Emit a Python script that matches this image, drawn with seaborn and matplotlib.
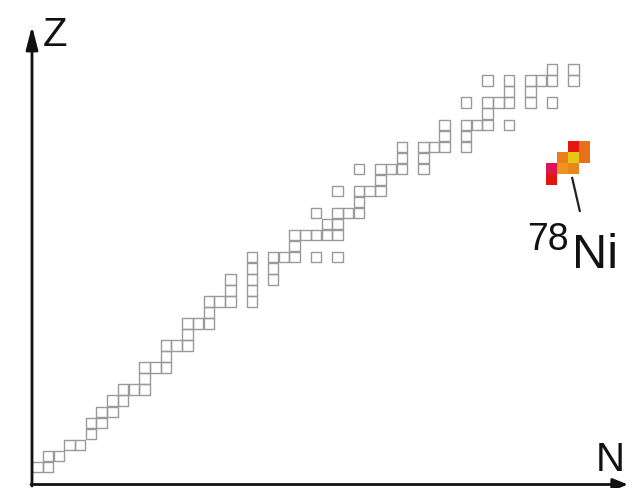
import matplotlib
matplotlib.use("Agg")
import matplotlib.pyplot as plt
import seaborn as sns
import pandas as pd

# ---- data: nuclides with T1/2 > 1e10 y (stable), Z = 1..37 ----
stable_Z = [1, 1, 2, 2, 3, 3, 4, 5, 5, 6, 6, 7, 7, 8, 8, 8, 9, 10, 10, 10,
            11, 12, 12, 12, 13, 14, 14, 14, 15, 16, 16, 16, 16, 17, 17,
            18, 18, 18, 19, 19, 20, 20, 20, 20, 20, 20, 21,
            22, 22, 22, 22, 22, 23, 23, 24, 24, 24, 24, 25,
            26, 26, 26, 26, 27, 28, 28, 28, 28, 28, 29, 29,
            30, 30, 30, 30, 30, 31, 31, 32, 32, 32, 32, 32, 33,
            34, 34, 34, 34, 34, 34, 35, 35, 36, 36, 36, 36, 36, 36, 37, 37]
stable_N = [0, 1, 1, 2, 3, 4, 5, 5, 6, 6, 7, 7, 8, 8, 9, 10, 10, 10, 11, 12,
            12, 12, 13, 14, 14, 14, 15, 16, 16, 16, 17, 18, 20, 18, 20,
            18, 20, 22, 20, 22, 20, 22, 23, 24, 26, 28, 24,
            24, 25, 26, 27, 28, 27, 28, 26, 28, 29, 30, 30,
            28, 30, 31, 32, 32, 30, 32, 33, 34, 36, 34, 36,
            34, 36, 37, 38, 40, 38, 40, 38, 40, 41, 42, 44, 42,
            40, 42, 43, 44, 46, 48, 44, 46, 42, 44, 46, 47, 48, 50, 48, 50]

# highlighted nuclei around 78Ni
hl_N = [50, 51, 49, 50, 51, 48, 49, 50, 48]
hl_Z = [30, 30, 29, 29, 29, 28, 28, 28, 27]
hl_colors = ["#e6180e", "#e8701a", "#ea7e1a", "#e6c814", "#e8701a",
             "#df1457", "#ee9420", "#ea861a", "#e4140e"]

label_mass = "78"
label_elem = "Ni"
x_label = "N"
y_label = "Z"

# ---- figure ----
sns.set_theme(style="white")
plt.rcParams["font.family"] = ["Liberation Sans", "DejaVu Sans"]

W, H = 629, 488
fig = plt.figure(figsize=(W / 100, H / 100), dpi=100)
ax = fig.add_axes([0, 0, 1, 1])
ax.set_xlim(-2.985, 55.69)
ax.set_ylim(-0.404, 43.80)
ax.axis("off")

stable = pd.DataFrame({"N": stable_N, "Z": stable_Z})
stable["xc"] = stable["N"] + 0.5
stable["yc"] = stable["Z"] + 0.5
sns.scatterplot(data=stable, x="xc", y="yc", marker="s", s=57,
                facecolors="none", edgecolors="#9a9a9a", linewidth=1.0,
                ax=ax, legend=False)
coll = ax.collections[-1]
coll.set_facecolor("none")
coll.set_edgecolor("#9a9a9a")

hl = pd.DataFrame({"N": hl_N, "Z": hl_Z, "c": hl_colors})
hl["xc"] = hl["N"] + 0.5
hl["yc"] = hl["Z"] + 0.5
sns.scatterplot(data=hl, x="xc", y="yc", hue="c",
                palette={c: c for c in hl_colors}, marker="s", s=63,
                linewidth=0, ax=ax, legend=False)

# pointer line from 78Ni to its label
ax.plot([50.37, 51.12], [27.77, 24.6], color="#222222", lw=1.6,
        solid_capstyle="butt")

# axes arrows (figure pixel coordinates)
ax.annotate("", xy=(32, H - 26), xytext=(32, H - 486),
            xycoords="figure pixels", textcoords="figure pixels",
            arrowprops=dict(arrowstyle="-|>,head_length=0.7,head_width=0.18",
                            color="#111111", lw=2.0, shrinkA=0, shrinkB=0,
                            mutation_scale=20))
ax.annotate("", xy=(628, H - 484.5), xytext=(31, H - 484.5),
            xycoords="figure pixels", textcoords="figure pixels",
            arrowprops=dict(arrowstyle="-|>,head_length=0.45,head_width=0.18",
                            color="#111111", lw=2.0, shrinkA=0, shrinkB=0,
                            mutation_scale=20))

fig.text(43 / W, (H - 46) / H, y_label, fontsize=29, color="#111111",
         ha="left", va="baseline")
fig.text(596 / W, (H - 471) / H, x_label, fontsize=29, color="#111111",
         ha="left", va="baseline")
fig.text(527 / W, (H - 250) / H, label_mass, fontsize=27, color="#111111",
         ha="left", va="baseline")
fig.text(572 / W, (H - 268) / H, label_elem, fontsize=35, color="#111111",
         ha="left", va="baseline")

fig.savefig("out.png", dpi=100, facecolor="white")
